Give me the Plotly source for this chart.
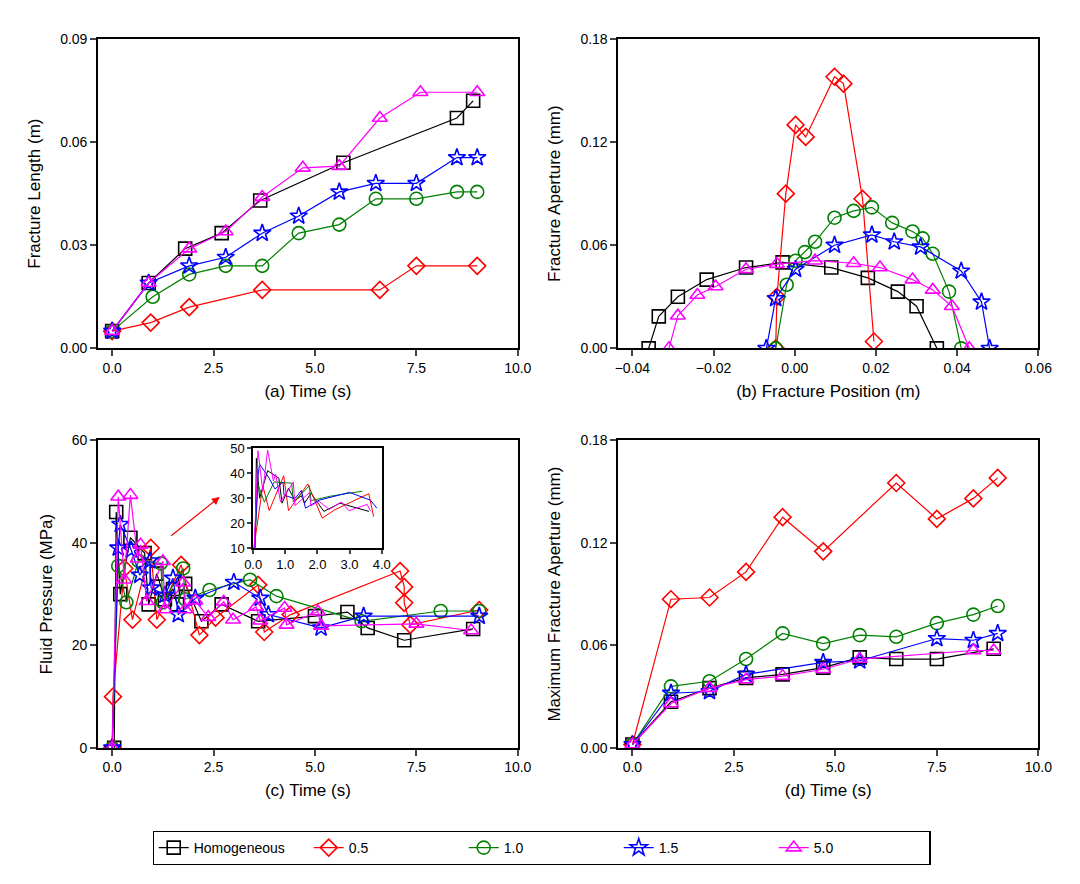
import plotly.graph_objects as go

# Series names, colours and marker symbols
names = ['Homogeneous', '0.5', '1.0', '1.5', '5.0']
colors = ['black', '#ff0000', '#008000', '#0000ff', '#ff00ff']
symbols = ['square-open', 'diamond-open', 'circle-open', 'star-open', 'triangle-up-open']

# (a) Fracture length vs time
a_t = [
    [0, 0.9, 1.8, 2.7, 3.65, 5.7, 8.5, 8.9],
    [0, 0.95, 1.9, 3.7, 6.6, 7.5, 9.0],
    [0, 1.0, 1.9, 2.8, 3.7, 4.6, 5.6, 6.5, 7.5, 8.5, 9.0],
    [0, 0.9, 1.9, 2.8, 3.7, 4.6, 5.6, 6.5, 7.5, 8.5, 9.0],
    [0, 0.9, 1.9, 2.8, 3.7, 4.7, 5.6, 6.6, 7.6, 9.0],
]
a_len = [
    [0.005, 0.019, 0.029, 0.0335, 0.043, 0.054, 0.067, 0.072],
    [0.005, 0.0075, 0.012, 0.017, 0.017, 0.024, 0.024],
    [0.005, 0.015, 0.0215, 0.024, 0.024, 0.0335, 0.036, 0.0435, 0.0435, 0.0455, 0.0455],
    [0.005, 0.019, 0.024, 0.0265, 0.0335, 0.0385, 0.0455, 0.048, 0.048, 0.0555, 0.0555],
    [0.005, 0.019, 0.029, 0.034, 0.044, 0.0525, 0.053, 0.067, 0.0745, 0.0745],
]

# (b) Fracture aperture vs position
b_pos = [
    [-0.036, -0.0335, -0.0288, -0.0217, -0.012, -0.003, 0.009, 0.018, 0.0254, 0.030, 0.035],
    [-0.0047, -0.0044, -0.0022, 0.0002, 0.0027, 0.0098, 0.012, 0.0167, 0.0195],
    [-0.0047, -0.002, 0.0002, 0.0025, 0.005, 0.0098, 0.0145, 0.019, 0.024, 0.029, 0.0315, 0.034, 0.038, 0.041],
    [-0.007, -0.0047, 0.0002, 0.0098, 0.019, 0.0245, 0.031, 0.041, 0.046, 0.048],
    [-0.031, -0.0288, -0.024, -0.0195, -0.012, -0.0044, 0.005, 0.0145, 0.021, 0.029, 0.034, 0.0387, 0.043],
]
b_ap = [
    [0, 0.0186, 0.030, 0.040, 0.047, 0.050, 0.047, 0.041, 0.033, 0.0245, 0],
    [0, 0.030, 0.090, 0.130, 0.123, 0.158, 0.154, 0.087, 0.004],
    [0, 0.037, 0.051, 0.056, 0.062, 0.076, 0.080, 0.082, 0.073, 0.068, 0.064, 0.055, 0.033, 0],
    [0, 0.029, 0.046, 0.060, 0.066, 0.062, 0.059, 0.045, 0.027, 0],
    [0, 0.019, 0.031, 0.036, 0.046, 0.049, 0.051, 0.0495, 0.047, 0.040, 0.034, 0.0245, 0],
]

# (c) Fluid pressure vs time
c_t = [
    [0.05, 0.1, 0.2, 0.45, 0.8, 0.9, 1.1, 1.3, 1.5, 1.6, 1.8, 2.2, 2.7, 3.6, 5.0, 5.8, 6.3, 7.2, 8.9],
    [0, 0.02, 0.3, 0.5, 0.95, 1.1, 1.7, 2.15, 2.55, 3.6, 3.75, 4.4, 7.1, 7.2, 7.2, 7.35, 9.05],
    [0, 0.15, 0.35, 0.65, 1.2, 1.25, 1.75, 1.8, 2.4, 3.4, 4.05, 6.15, 8.1, 9.05],
    [0, 0.15, 0.2, 0.47, 0.68, 0.93, 0.96, 1.3, 1.5, 1.63, 2.05, 3.0, 3.65, 3.85, 5.15, 6.2, 9.05],
    [0, 0.15, 0.3, 0.45, 0.63, 0.7, 0.85, 1.25, 1.3, 1.75, 1.8, 2.05, 2.37, 2.75, 2.98, 3.55, 3.65,
     4.25, 4.3, 5.07, 5.15, 7.5, 8.85],
]
c_p = [
    [0, 46, 30, 41, 38, 28, 34, 29, 31, 28, 32, 24.7, 28, 24.7, 25.7, 26.5, 23.4, 21, 23.2],
    [0, 10, 35, 25, 39, 25, 35.7, 22, 25.4, 31.8, 22.6, 26, 34.5, 31.4, 28.3, 24, 26.9],
    [0, 35.5, 28.4, 36.5, 36, 28.4, 35, 29, 30.8, 32.8, 29.6, 24.7, 26.7, 26.7],
    [0, 39, 43.6, 38.6, 33.7, 36.5, 31.2, 29.8, 33.1, 26, 29.2, 32.3, 29.2, 26, 23.4, 25.7, 25.7],
    [0, 49, 32.8, 49.3, 36.9, 39.6, 28.6, 36.4, 27, 32.2, 27, 28.7, 25.5, 28.5, 25, 27.5, 24.8,
     27.3, 24, 26.6, 23.8, 24.2, 22.9],
]

# (d) Maximum fracture aperture vs time
d_t = [
    [0, 0.95, 1.9, 2.8, 3.7, 4.7, 5.6, 6.5, 7.5, 8.9],
    [0, 0.95, 1.9, 2.8, 3.7, 4.7, 6.5, 7.5, 8.4, 9.0],
    [0, 0.95, 1.9, 2.8, 3.7, 4.7, 5.6, 6.5, 7.5, 8.4, 9.0],
    [0, 0.95, 1.9, 2.8, 4.7, 5.6, 7.5, 8.4, 9.0],
    [0, 0.95, 1.9, 2.8, 3.7, 4.7, 5.6, 8.4, 8.9],
]
d_ap = [
    [0.002, 0.027, 0.035, 0.041, 0.043, 0.047, 0.053, 0.052, 0.052, 0.058],
    [0.002, 0.087, 0.088, 0.103, 0.135, 0.115, 0.155, 0.134, 0.146, 0.158],
    [0.002, 0.036, 0.039, 0.052, 0.067, 0.061, 0.066, 0.065, 0.073, 0.078, 0.083],
    [0.002, 0.032, 0.033, 0.043, 0.050, 0.051, 0.064, 0.063, 0.067],
    [0.002, 0.026, 0.035, 0.040, 0.042, 0.046, 0.052, 0.057, 0.057],
]

fig = go.Figure()

panels = [('x', 'y', a_t, a_len), ('x2', 'y2', b_pos, b_ap), ('x3', 'y3', c_t, c_p), ('x4', 'y4', d_t, d_ap)]
for k, (xa, ya, xs, ys) in enumerate(panels):
    for i in range(5):
        fig.add_trace(go.Scatter(
            x=xs[i], y=ys[i], xaxis=xa, yaxis=ya, mode='lines+markers', name=names[i],
            showlegend=(k == 0), line=dict(color=colors[i], width=1.2),
            marker=dict(symbol=symbols[i], size=13, color=colors[i], line=dict(width=1.6)),
        ))

# inset of (c): lines only, first 4 s
for i in range(5):
    xs = [t for t in c_t[i] if t <= 4.0]
    ys = c_p[i][:len(xs)]
    fig.add_trace(go.Scatter(x=xs, y=ys, xaxis='x5', yaxis='y5', mode='lines', showlegend=False,
                             line=dict(color=colors[i], width=1)))

font = dict(family='Liberation Sans, Arial', size=14, color='black')
ax = dict(showline=True, linecolor='black', linewidth=1.5, mirror=True, ticks='outside', automargin=False,
          ticklen=6, tickwidth=1.5, showgrid=False, zeroline=False, tickfont=dict(size=14))

xdom = [[0.0833, 0.472], [0.565, 0.954]]
ydom = [[0.615, 0.965], [0.163, 0.511]]

fig.update_layout(
    width=1080, height=884, margin=dict(l=0, r=0, t=0, b=0),
    plot_bgcolor='white', paper_bgcolor='white', font=font,
    xaxis=dict(ax, domain=xdom[0], anchor='y', range=[-0.35, 10], dtick=2.5, tickformat='.1f',
               title=dict(text='(a) Time (s)', standoff=10)),
    yaxis=dict(ax, domain=ydom[0], anchor='x', range=[0, 0.09], dtick=0.03, tickformat='.2f',
               title=dict(text='Fracture Length (m)')),
    xaxis2=dict(ax, domain=xdom[1], anchor='y2', range=[-0.0435, 0.06], dtick=0.02, tickformat='.2f',
                title=dict(text='(b) Fracture Position (m)', standoff=10)),
    yaxis2=dict(ax, domain=ydom[0], anchor='x2', range=[0, 0.18], dtick=0.06, tickformat='.2f',
                title=dict(text='Fracture Aperture (mm)')),
    xaxis3=dict(ax, domain=xdom[0], anchor='y3', range=[-0.35, 10], dtick=2.5, tickformat='.1f',
                title=dict(text='(c) Time (s)', standoff=10)),
    yaxis3=dict(ax, domain=ydom[1], anchor='x3', range=[0, 60], dtick=20,
                title=dict(text='Fluid Pressure (MPa)')),
    xaxis4=dict(ax, domain=xdom[1], anchor='y4', range=[-0.35, 10], dtick=2.5, tickformat='.1f',
                title=dict(text='(d) Time (s)', standoff=10)),
    yaxis4=dict(ax, domain=ydom[1], anchor='x4', range=[0, 0.18], dtick=0.06, tickformat='.2f',
                title=dict(text='Maximum Fracture Aperture (mm)')),
    xaxis5=dict(ax, domain=[0.227, 0.346], anchor='y5', range=[0, 4], dtick=1, tickformat='.1f',
                ticklen=4, tickfont=dict(size=13)),
    yaxis5=dict(ax, domain=[0.389, 0.502], anchor='x5', range=[10, 50], dtick=10,
                ticklen=4, tickfont=dict(size=13)),
    legend=dict(orientation='h', x=0.494, xanchor='center', y=0.05, yanchor='middle',
                bordercolor='black', borderwidth=1.2, font=dict(size=14),
                entrywidthmode='pixels', entrywidth=110),
)

# red arrow pointing to the inset
fig.add_annotation(x=0.196, y=1 - 489 / 884, xref='paper', yref='paper', ax=-50, ay=40,
                   showarrow=True, arrowhead=2, arrowsize=1.3, arrowwidth=1.2, arrowcolor='red', text='')

fig.write_html('out.html')
